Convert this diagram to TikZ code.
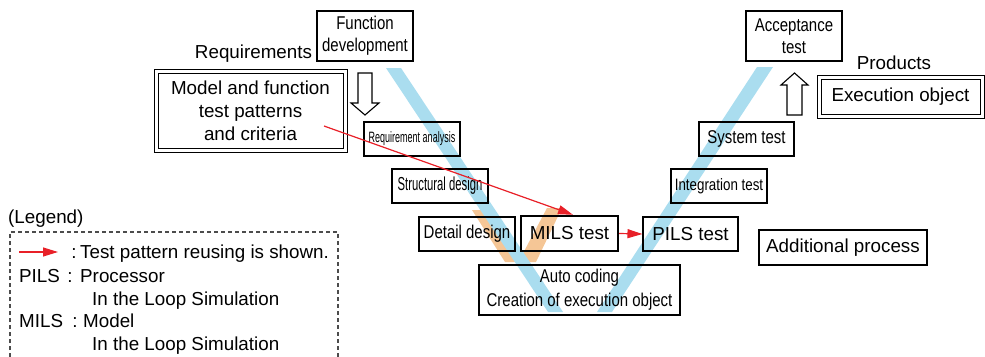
\documentclass[tikz,border=0pt]{standalone}
\usepackage{fontspec}
\setmainfont{Liberation Sans}
\newfontfamily\condfont[FakeStretch=0.81]{Liberation Sans}
\newfontfamily\narrowfont[FakeStretch=0.6]{Liberation Sans}
\usetikzlibrary{arrows.meta}
\definecolor{vblue}{RGB}{170,221,239}
\definecolor{vorange}{RGB}{245,198,150}
\definecolor{reuse}{RGB}{232,32,40}

\begin{document}
\begin{tikzpicture}[x=1pt,y=-1pt,
    label/.style={inner sep=0pt, text height=13.5pt, text depth=4pt, font=\fontsize{18.8}{23}\selectfont},
    box/.style={draw, line width=1.1pt, inner sep=0pt, align=center, font=\condfont\fontsize{18.5}{22}\selectfont},
    wide/.style={font=\fontsize{18.8}{23}\selectfont},
    boldbox/.style={line width=2.4pt},
    twinbox/.style={draw, double, double distance=3pt, line width=1pt, inner sep=0pt, align=center, font=\fontsize{18.8}{23}\selectfont},
    reusearrow/.style={draw=reuse, line width=1.2pt, -{Triangle[length=15pt,width=9pt]}, fill=reuse}
  ]
    \useasboundingbox (0,0) rectangle (985,356);

    % V band
    \fill[vorange] (472,210) -- (487,210) -- (520,259) -- (547,208) -- (562,208) -- (536,262) -- (505,262) -- cycle;
    \fill[vblue] (386,68) -- (401,68) -- (563,312) -- (548,312) -- cycle;
    \fill[vblue] (757,67) -- (773,67) -- (612,312) -- (597,312) -- cycle;

    % Process boxes
    \node[box, minimum width=96pt, minimum height=50pt] (fdev) at (365,36) {Function\\development};
    \node[box, minimum width=96pt, minimum height=34pt, font=\narrowfont\fontsize{15}{18}\selectfont] (reqan) at (412,139) {Requirement analysis};
    \node[box, minimum width=96pt, minimum height=34pt, font=\narrowfont\fontsize{18.8}{22}\selectfont] (struct) at (440,186) {Structural design};
    \node[box, minimum width=96pt, minimum height=34pt] (detail) at (467,234) {Detail design};
    \node[box, wide, boldbox, minimum width=97pt, minimum height=35pt] (mils) at (569.5,233.5) {MILS test};
    \node[box, font=\condfont\fontsize{18.5}{24}\selectfont, minimum width=201pt, minimum height=50pt] (autocode) at (579.5,290) {Auto coding\\Creation of execution object};
    \node[box, wide, minimum width=95pt, minimum height=34pt] (pils) at (690.5,234) {PILS test};
    \node[box, font=\condfont\fontsize{16.5}{20}\selectfont, minimum width=96pt, minimum height=34pt] (integ) at (719,186) {Integration test};
    \node[box, minimum width=95pt, minimum height=34pt] (systest) at (746.5,139) {System test};
    \node[box, minimum width=96pt, minimum height=50pt] (accept) at (794,36) {Acceptance\\test};
    \node[box, wide, boldbox, minimum width=168pt, minimum height=35pt] (addproc) at (843,247.5) {Additional process};

    % Requirements and products
    \node[label] (reqtitle) at (253.5,54) {Requirements};
    \node[twinbox, minimum width=189pt, minimum height=79pt] (model) at (250.5,110.5) {Model and function\\test patterns\\and criteria};
    \node[label] (prodtitle) at (894,65) {Products};
    \node[twinbox, minimum width=163pt, minimum height=39pt] (exec) at (900.5,96.5) {Execution object};

    % Hollow arrows
    \draw[line width=1.1pt, fill=white] (358,73) -- (372,73) -- (372,103) -- (379,103) -- (365,115) -- (351,103) -- (358,103) -- cycle;
    \draw[line width=1.1pt, fill=white] (787,115) -- (802,115) -- (802,85) -- (808,85) -- (794.5,73) -- (781,85) -- (787,85) -- cycle;

    % Test pattern reusing
    \coordinate (reusefrom) at (324,126);
    \draw[reusearrow] (reusefrom) -- ([xshift=3.5pt]mils.north);
    \draw[reusearrow] (mils.east) -- (pils.west);

    % Legend
    \node[label, anchor=west] (legtitle) at (8,219) {(Legend)};
    \draw[black!70, line width=1.2pt, dash pattern=on 4pt off 3pt] (10,357) -- (10,232) -- (338,232) -- (338,357);
    \coordinate (keyfrom) at (19,252);
    \coordinate (keyto) at (58,252);
    \draw[reusearrow] (keyfrom) -- (keyto);
    \node[label] (colona) at (74,254) {:};
    \node[label, anchor=west] (keya) at (80,254) {Test pattern reusing is shown.};
    \node[label, anchor=west] (pilskey) at (19,278) {PILS};
    \node[label] (colonb) at (70,278) {:};
    \node[label, anchor=west] (pilsa) at (80,278) {Processor};
    \node[label, anchor=west] (pilsb) at (92,301) {In the Loop Simulation};
    \node[label, anchor=west] (milskey) at (19,323) {MILS};
    \node[label] (colonc) at (75,323) {:};
    \node[label, anchor=west] (milsa) at (83,323) {Model};
    \node[label, anchor=west] (milsb) at (92,346) {In the Loop Simulation};
\end{tikzpicture}
\end{document}
